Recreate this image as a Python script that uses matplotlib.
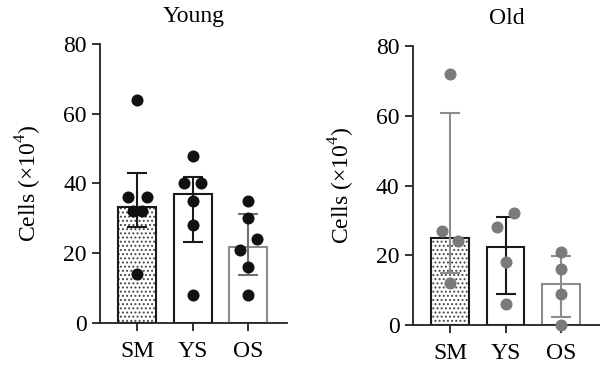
import matplotlib
matplotlib.use("Agg")
import matplotlib.pyplot as plt

plt.rcParams["font.family"] = ["Liberation Serif", "DejaVu Serif"]
plt.rcParams["mathtext.fontset"] = "custom"
plt.rcParams["mathtext.rm"] = "Liberation Serif"
plt.rcParams["hatch.linewidth"] = 0.9

groups = ["SM", "YS", "OS"]

young_means = [33.3, 36.9, 21.9]
young_err_low = [27.4, 23.1, 13.9]
young_err_high = [42.9, 41.9, 31.2]
young_points = [
    [64, 36, 36, 32, 32, 14],
    [48, 40, 40, 35, 28, 8],
    [35, 30, 24, 21, 16, 8],
]
young_offsets = [
    [0, -0.17, 0.17, -0.08, 0.08, 0],
    [0, -0.15, 0.15, 0, 0, 0],
    [0, 0, 0.15, -0.15, 0, 0],
]

old_means = [24.9, 22.4, 11.8]
old_err_low = [15.0, 8.9, 2.4]
old_err_high = [60.7, 31.0, 19.8]
old_points = [
    [72, 27, 24, 12],
    [32, 28, 18, 6],
    [21, 16, 9, 0],
]
old_offsets = [
    [0, -0.15, 0.15, 0],
    [0.15, -0.15, 0, 0],
    [0, 0, 0, 0],
]


def draw_panel(ax, title, means, lo, hi, points, offsets, dot_color, err_colors):
    x = range(len(groups))
    edge_colors = ["#1a1a1a", "#1a1a1a", "#8c8c8c"]
    for i in x:
        if i == 0:
            # dotted fill drawn separately so the dots can be grey
            ax.bar(i, means[i], width=0.68, color="white", edgecolor="#444444",
                   linewidth=0, hatch="....", zorder=1)
            ax.bar(i, means[i], width=0.68, fill=False, edgecolor=edge_colors[i],
                   linewidth=1.5, zorder=1)
        else:
            ax.bar(i, means[i], width=0.68, color="white", edgecolor=edge_colors[i],
                   linewidth=1.5, zorder=1)
        ax.errorbar(i, means[i], yerr=[[means[i] - lo[i]], [hi[i] - means[i]]],
                    fmt="none", ecolor=err_colors[i], elinewidth=1.5,
                    capsize=7, capthick=1.5, zorder=2)
        xs = [i + o for o in offsets[i]]
        ax.scatter(xs, points[i], s=75, color=dot_color, zorder=3,
                   clip_on=False, linewidths=0)
    ax.set_xlim(-0.67, 2.7)
    ax.set_ylim(0, 80)
    ax.set_yticks([0, 20, 40, 60, 80])
    ax.set_xticks(list(x))
    ax.set_xticklabels(groups)
    ax.set_ylabel("Cells (×10$^4$)", fontsize=17, labelpad=14)
    ax.set_title(title, fontsize=17, pad=16)
    for side in ["top", "right"]:
        ax.spines[side].set_visible(False)
    for side in ["left", "bottom"]:
        ax.spines[side].set_linewidth(1.3)
        ax.spines[side].set_color("#222222")
    ax.tick_params(axis="both", labelsize=17, width=1.3, length=6, color="#222222")
    ax.tick_params(axis="x", pad=7)


fig = plt.figure(figsize=(6, 3.71), dpi=100)
ax1 = fig.add_axes([0.1667, 0.1294, 0.3117, 0.752])
ax2 = fig.add_axes([0.688, 0.124, 0.312, 0.752])

draw_panel(ax1, "Young", young_means, young_err_low, young_err_high,
           young_points, young_offsets, "#111111",
           ["#1a1a1a", "#1a1a1a", "#707070"])
draw_panel(ax2, "Old", old_means, old_err_low, old_err_high,
           old_points, old_offsets, "#7a7a7a",
           ["#8c8c8c", "#1a1a1a", "#8c8c8c"])

fig.savefig("out.png", dpi=100)
